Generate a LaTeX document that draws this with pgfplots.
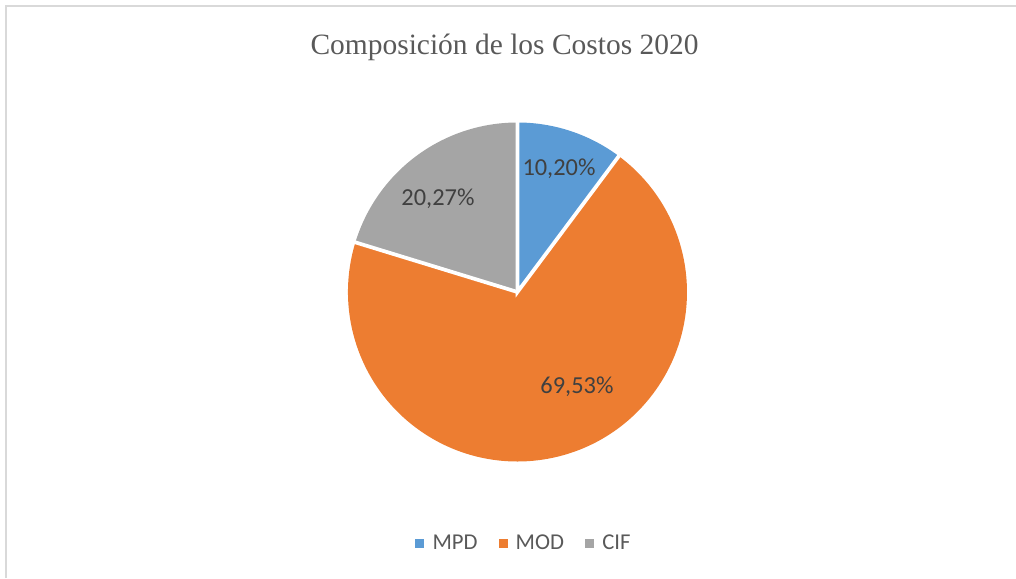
\documentclass[border=0pt]{standalone}
\usepackage{pgfplots}
\pgfplotsset{compat=1.18}
\usepackage{pgfplotstable}
\usepackage{fontspec}
\setmainfont{Liberation Serif}
\newfontfamily\carlito{Carlito}

\definecolor{mpd}{HTML}{5B9BD5}
\definecolor{mod}{HTML}{ED7D31}
\definecolor{cif}{HTML}{A5A5A5}
\definecolor{etiq}{HTML}{404040}
\definecolor{titulo}{HTML}{595959}
\definecolor{marco}{HTML}{D9D9D9}

% porcentajes de cada componente
\pgfplotstableread{
parte valor
MPD 10.20
MOD 69.53
CIF 20.27
}\costos
\pgfplotstablegetelem{0}{valor}\of\costos \let\vMPD\pgfplotsretval
\pgfplotstablegetelem{1}{valor}\of\costos \let\vMOD\pgfplotsretval
\pgfplotstablegetelem{2}{valor}\of\costos \let\vCIF\pgfplotsretval
\pgfmathsetmacro\aA{90}
\pgfmathsetmacro\aB{\aA-3.6*\vMPD}
\pgfmathsetmacro\aC{\aB-3.6*\vMOD}
\pgfmathsetmacro\aD{\aC-3.6*\vCIF}

\begin{document}
\begin{tikzpicture}
% 1016x578 px, 1px = 0.75pt
\draw[marco, line width=1pt] (4.5pt,0) -- (4.5pt,429pt) -- (762pt,429pt);

\node[anchor=base, text=titulo, font=\fontsize{22.1}{26}\selectfont]
  at (378.4pt,392.25pt) {Composición de los Costos 2020};

\begin{axis}[
    at={(388.1pt,214.5pt)}, anchor=center,
    scale only axis, width=254.25pt, height=254.25pt,
    xmin=-1, xmax=1, ymin=-1, ymax=1,
    disabledatascaling,
    hide axis, clip=false,
    legend columns=3,
    legend image code/.code={\fill[#1] (0pt,-3pt) rectangle (6pt,3pt);},
    legend style={at={(0.516,-0.240)}, anchor=center, draw=none, fill=none,
        font=\carlito\fontsize{17}{20}\selectfont, text=titulo,
        nodes={inner sep=0pt},
        /tikz/every odd column/.append style={column sep=6.5pt},
        /tikz/every even column/.append style={column sep=15.75pt}},
  ]
  \fill[mpd] (axis cs:0,0) -- (axis cs:{cos(\aA)},{sin(\aA)}) arc[start angle=\aA, end angle=\aB, radius=1] -- cycle;
  \fill[mod] (axis cs:0,0) -- (axis cs:{cos(\aB)},{sin(\aB)}) arc[start angle=\aB, end angle=\aC, radius=1] -- cycle;
  \fill[cif] (axis cs:0,0) -- (axis cs:{cos(\aC)},{sin(\aC)}) arc[start angle=\aC, end angle=\aD, radius=1] -- cycle;
  \draw[white, line width=2.8pt] (axis cs:{1.01*cos(\aA)},{1.01*sin(\aA)}) -- (axis cs:0,0) -- (axis cs:{1.01*cos(\aB)},{1.01*sin(\aB)});
  \draw[white, line width=2.8pt] (axis cs:0,0) -- (axis cs:{1.01*cos(\aC)},{1.01*sin(\aC)});

  \node[text=etiq, font=\carlito\fontsize{18.3}{22}\selectfont] at (axis cs:0.245,0.726) {10,20\%};
  \node[text=etiq, font=\carlito\fontsize{18.3}{22}\selectfont] at (axis cs:0.351,-0.560) {69,53\%};
  \node[text=etiq, font=\carlito\fontsize{18.3}{22}\selectfont] at (axis cs:-0.469,0.549) {20,27\%};

  \addlegendimage{mpd}
  \addlegendentry{MPD}
  \addlegendimage{mod}
  \addlegendentry{MOD}
  \addlegendimage{cif}
  \addlegendentry{CIF}
\end{axis}
\pgfresetboundingbox
\path[use as bounding box] (0,0) rectangle (762pt,433.5pt);
\end{tikzpicture}
\end{document}
